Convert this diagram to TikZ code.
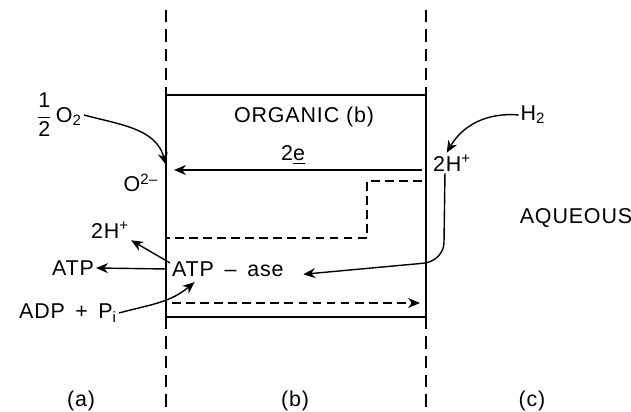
\documentclass[tikz,border=0pt]{standalone}
\usepackage{amsmath}
\usepackage{fontspec}
\setmainfont{Liberation Sans}[LetterSpace=4]
\usetikzlibrary{arrows.meta,positioning}

\begin{document}
\begin{tikzpicture}[
    lbl/.style={inner sep=1pt, font=\fontsize{12.2}{14}\selectfont},
    ln/.style={line width=0.8pt},
    wall/.style={line width=0.8pt, dash pattern=on 7pt off 4pt},
    dln/.style={line width=0.8pt, dash pattern=on 5pt off 3pt},
    arr/.style={-{Stealth[length=2.4mm,width=2mm]}, line width=0.8pt},
    darr/.style={arr, dash pattern=on 5pt off 3pt}
  ]
  \useasboundingbox (0,0) rectangle (12.62,8.24);

  % walls (a)|(b)|(c) and the organic phase
  \coordinate (wtl) at (3.32,8.04);
  \coordinate (wtr) at (8.52,8.04);
  \coordinate (wbl) at (3.32,0);
  \coordinate (wbr) at (8.52,0);
  \coordinate (tl) at (3.32,6.34);
  \coordinate (tr) at (8.52,6.34);
  \coordinate (bl) at (3.32,1.90);
  \coordinate (br) at (8.52,1.90);
  \draw[ln] (tl) rectangle (br);
  \draw[wall] (wtl) -- (tl);
  \draw[wall] (wtr) -- (tr);
  \draw[wall] (bl) -- (wbl);
  \draw[wall] (br) -- (wbr);

  \node[lbl] (org) at (6.08,5.90) {ORGANIC (b)};
  \node[lbl] (ee)  at (5.86,5.14) {2\underline{e}};
  \node[lbl] (aq)  at (11.52,3.88) {AQUEOUS};

  \node[lbl] (half) at (1.18,5.94) {$\dfrac{\text{1}}{\text{2}}$\,O\textsubscript{2}};
  \node[lbl] (oxy)  at (2.82,4.58) {O\textsuperscript{2--}};
  \node[lbl] (htwo) at (10.66,5.94) {H\textsubscript{2}};
  \node[lbl] (hpr)  at (9.04,4.98) {2H\textsuperscript{+}};
  \node[lbl] (hpl)  at (2.20,3.64) {2H\textsuperscript{+}};
  \node[lbl, anchor=west] (atpase) at (3.40,2.86) {ATP\enspace--\enspace ase};
  \node[lbl] (atp)  at (1.46,2.88) {ATP};
  \node[lbl] (adp)  at (1.36,1.98) {ADP \,+\, P\textsubscript{i}};

  \node[lbl] (la) at (1.62,0.22) {(a)};
  \node[lbl] (lb) at (5.90,0.22) {(b)};
  \node[lbl] (lc) at (10.64,0.22) {(c)};

  % electrons across, protons back
  \coordinate (eR) at (8.44,4.84);
  \coordinate (eL) at (3.48,4.84);
  \draw[arr] (eR) -- (eL);
  \draw[dln] (8.44,4.62) -- (7.34,4.62) -- (7.34,3.48) -- (3.32,3.48);
  \coordinate (dl) at (3.44,2.18);
  \coordinate (dr) at (8.40,2.18);
  \draw[darr] (dl) -- (dr);

  \draw[arr] (half.east) to[out=-15,in=105] ([xshift=3pt,yshift=4pt]oxy.north east);
  \draw[arr] (htwo.west) to[out=175,in=60] ([xshift=-3pt]hpr.north);
  \draw[arr] ([xshift=-4pt]hpr.south) -- (8.88,3.40) to[out=-90,in=15] (8.52,2.98)
      -- ([xshift=10pt,yshift=-3pt]atpase.east);
  \draw[arr] ([xshift=-2pt]atpase.west) -- (atp.east);
  \draw[arr] ([yshift=-2pt]atpase.north west) -- (hpl.south east);
  \draw[arr] (adp.east) to[out=15,in=-140] ([xshift=14pt,yshift=-2pt]atpase.south west);
\end{tikzpicture}
\end{document}
